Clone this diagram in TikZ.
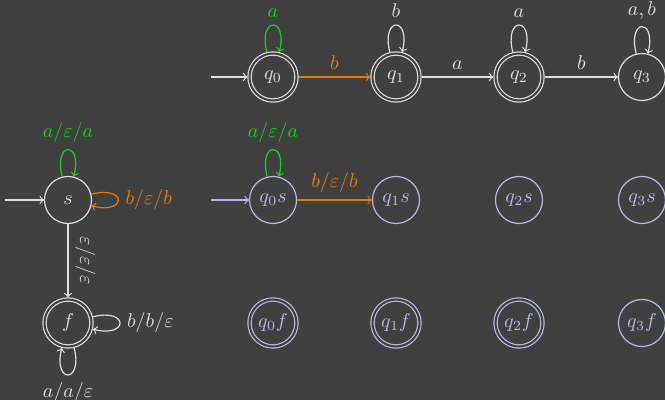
\documentclass[tikz,border=0pt]{standalone}
\usepackage{amsmath}
\usepackage{amssymb}
\usetikzlibrary{calc}

\definecolor{bgc}{RGB}{64,64,64}
\definecolor{fgc}{RGB}{222,222,222}
\definecolor{lav}{RGB}{184,184,232}
\definecolor{grn}{RGB}{20,214,20}
\definecolor{orng}{RGB}{232,122,12}

\begin{document}
\begin{tikzpicture}[semithick,draw=fgc,text=fgc,
   st/.style={circle,draw=fgc,text=fgc,minimum size=23.5pt,inner sep=0pt},
   acc/.style={st,double=bgc,double distance=1pt,outer sep=1.1pt},
   pst/.style={st,draw=lav,text=lav},
   pacc/.style={acc,draw=lav,text=lav},
   every loop/.style={min distance=6.5mm,looseness=4},
   lpa/.style={out=104,in=76,loop},
   lpr/.style={out=14,in=-14,loop},
   lpb/.style={out=-76,in=-104,loop}]

   \fill[bgc] (0,0) rectangle (332.5pt,200pt);
   \useasboundingbox (0,0) rectangle (332.5pt,200pt);

   % top row
   \coordinate (c0) at (136.5pt,161.5pt);
   \coordinate (c1) at ($(c0) + (61.5pt,0)$);
   \coordinate (c2) at ($(c1) + (61.5pt,0)$);
   \coordinate (c3) at ($(c2) + (61.5pt,0)$);

   % middle row
   \coordinate (m0) at ($(c0) + (0,-61.5pt)$);
   \coordinate (m1) at ($(c1) + (0,-61.5pt)$);
   \coordinate (m2) at ($(c2) + (0,-61.5pt)$);
   \coordinate (m3) at ($(c3) + (0,-61.5pt)$);

   % bottom row
   \coordinate (b0) at ($(m0) + (0,-61.5pt)$);
   \coordinate (b1) at ($(m1) + (0,-61.5pt)$);
   \coordinate (b2) at ($(m2) + (0,-61.5pt)$);
   \coordinate (b3) at ($(m3) + (0,-61.5pt)$);

   \coordinate (cs) at ($(m0) + (-102.5pt,0)$);
   \coordinate (cf) at ($(b0) + (-102.5pt,0)$);

   % free ends of the start arrows
   \coordinate (i1) at ($(c0) + (-31pt,0)$);
   \coordinate (i2) at ($(cs) + (-31.5pt,0)$);
   \coordinate (i3) at ($(m0) + (-31pt,0)$);

   \node[acc] (q0) at (c0) {$q_0$};
   \node[acc] (q1) at (c1) {$q_1$};
   \node[acc] (q2) at (c2) {$q_2$};
   \node[st]  (q3) at (c3) {$q_3$};

   \node[st]  (s) at (cs) {$s$};
   \node[acc] (f) at (cf) {$f$};

   \node[pst] (q0s) at (m0) {$q_0s$};
   \node[pst] (q1s) at (m1) {$q_1s$};
   \node[pst] (q2s) at (m2) {$q_2s$};
   \node[pst] (q3s) at (m3) {$q_3s$};

   \node[pacc] (q0f) at (b0) {$q_0f$};
   \node[pacc] (q1f) at (b1) {$q_1f$};
   \node[pacc] (q2f) at (b2) {$q_2f$};
   \node[pst]  (q3f) at (b3) {$q_3f$};

   \draw[->,fgc] (i1) -- (q0);
   \draw[->,orng] (q0) -- node[above] {$b$} (q1);
   \draw[->,fgc] (q1) -- node[above] {$a$} (q2);
   \draw[->,fgc] (q2) -- node[above] {$b$} (q3);

   \draw[->,grn] (q0) to[lpa] node[above] {$a$} (q0);
   \draw[->,fgc] (q1) to[lpa] node[above] {$b$} (q1);
   \draw[->,fgc] (q2) to[lpa] node[above] {$a$} (q2);
   \draw[->,fgc] (q3) to[lpa] node[above] {$a,b$} (q3);

   \draw[->,fgc] (i2) -- (s);
   \draw[->,grn] (s) to[lpa] node[above] {$a/\varepsilon/a$} (s);
   \draw[->,orng] (s) to[lpr] node[right] {$b/\varepsilon/b$} (s);
   \draw[->,fgc] (s) -- node[above,sloped] {$\varepsilon/\varepsilon/\varepsilon$} (f);
   \draw[->,fgc] (f) to[lpr] node[right] {$b/b/\varepsilon$} (f);
   \draw[->,fgc] (f) to[lpb] node[below] {$a/a/\varepsilon$} (f);

   \draw[->,lav] (i3) -- (q0s);
   \draw[->,grn] (q0s) to[lpa] node[above] {$a/\varepsilon/a$} (q0s);
   \draw[->,orng] (q0s) -- node[above] {$b/\varepsilon/b$} (q1s);

\end{tikzpicture}
\end{document}
